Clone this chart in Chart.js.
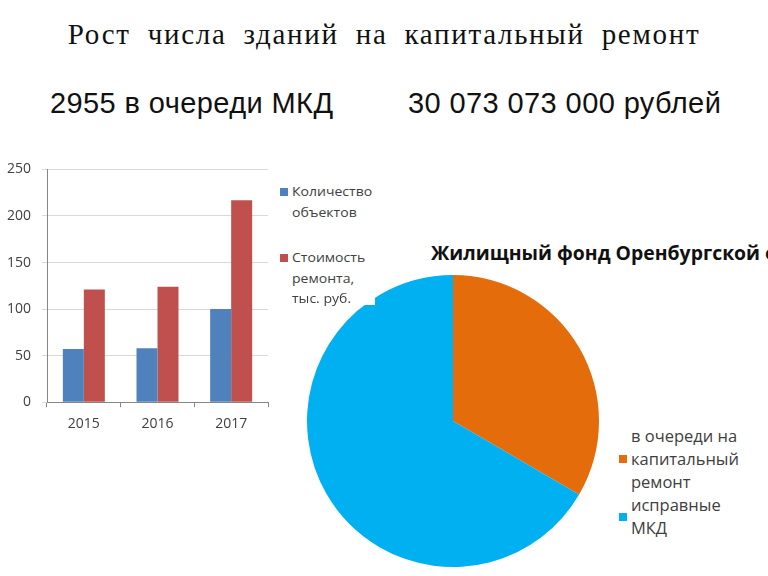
<!DOCTYPE html>
<html lang="ru">
<head>
<meta charset="utf-8">
<script src="https://cdn.jsdelivr.net/npm/chart.js@4.4.0/dist/chart.umd.min.js"></script>
<style>
  html, body { margin: 0; padding: 0; background: #fff; }
  body { width: 768px; height: 576px; overflow: hidden; position: relative; font-family: "Open Sans", sans-serif; }
  .slide-title { position: absolute; left: 0; top: 18px; width: 768px; text-align: center; white-space: nowrap;
    font-family: "Liberation Serif", serif; font-size: 29px; color: #111; letter-spacing: 1.7px; word-spacing: 8px; }
  .fact { position: absolute; top: 87px; white-space: nowrap; font-family: "Liberation Sans", Arial, sans-serif;
    font-size: 29px; letter-spacing: 0.4px; color: #111; }
  .box { position: absolute; }
  .legend { position: absolute; color: #404040; }
  .legend .item { position: relative; padding-left: 12px; }
  .legend .sw { position: absolute; left: 0; width: 8px; height: 8px; }
  .legend .txt { display: inline-block; white-space: nowrap; transform-origin: left center; }
  .pie-title { position: absolute; left: 431px; top: 240px; white-space: nowrap; font-weight: bold; font-size: 19px;
    color: #111; transform: scaleX(1.02); transform-origin: left center; }
  .mask { position: absolute; left: 280px; top: 150px; width: 95px; height: 155px; background: #fff; }
</style>
</head>
<body>
<div class="slide-title">Рост числа зданий на капитальный ремонт</div>
<div class="fact" style="left:50px">2955 в очереди МКД</div>
<div class="fact" style="left:408px">30 073 073 000 рублей</div>

<div class="box" style="left:300px; top:272px; width:306px; height:298px;"><canvas id="pieChart"></canvas></div>
<div class="mask"></div>
<div class="pie-title" id="pieTitle"></div>
<div class="legend" id="pieLegend" style="left:619px; top:425px; width:149px; font-size:16px; line-height:23px;"></div>

<div class="box" style="left:0; top:150px; width:280px; height:290px; background:#fff;"><canvas id="barChart"></canvas></div>
<div class="legend" id="barLegend" style="left:280px; top:181px; width:100px; font-size:13px; line-height:20.5px;"></div>

<script>
// Bar chart data
const years = ['2015', '2016', '2017'];
const objectCount = [57, 58, 100];
const repairCost = [121, 124, 217];
const barLabels = [['Количество', 'объектов'], ['Стоимость', 'ремонта,', 'тыс. руб.']];
const barColors = ['#4F81BD', '#C0504D'];
const yTicks = [0, 50, 100, 150, 200, 250];

// Pie chart data
const pieTitle = 'Жилищный фонд Оренбургской области';
const pieLabels = [['в очереди на', 'капитальный', 'ремонт'], ['исправные', 'МКД']];
const pieShares = [33.4, 66.6];
const pieColors = ['#E46C0A', '#00B0F0'];

Chart.defaults.font.family = '"Open Sans", sans-serif';
Chart.defaults.color = '#404040';
Chart.defaults.animation = false;

const barCtx = document.getElementById('barChart').getContext('2d');
new Chart(barCtx, {
    type: 'bar',
    data: {
        labels: years,
        datasets: [
            { label: barLabels[0].join(' '), data: objectCount, backgroundColor: barColors[0], barPercentage: 1, categoryPercentage: 0.57 },
            { label: barLabels[1].join(' '), data: repairCost, backgroundColor: barColors[1], barPercentage: 1, categoryPercentage: 0.57 }
        ]
    },
    options: {
        responsive: true,
        maintainAspectRatio: false,
        layout: { padding: { top: 5, right: 12, bottom: 0, left: 0 } },
        plugins: { legend: { display: false }, tooltip: { enabled: false } },
        scales: {
            x: {
                grid: { drawOnChartArea: false, drawTicks: true, tickLength: 5, color: '#868686' },
                border: { color: '#868686' },
                ticks: { font: { size: 14 }, padding: 8, color: '#404040' }
            },
            y: {
                min: 0, max: 250,
                afterBuildTicks: function(scale) { scale.ticks = yTicks.map(v => ({ value: v })); },
                afterFit: function(scale) { scale.width = 47; },
                grid: { color: '#D9D9D9', tickLength: 5 },
                border: { color: '#868686' },
                ticks: { font: { size: 14 }, padding: 11, color: '#404040' }
            }
        }
    }
});

const pieCtx = document.getElementById('pieChart').getContext('2d');
new Chart(pieCtx, {
    type: 'pie',
    data: {
        labels: pieLabels.map(l => l.join(' ')),
        datasets: [{ data: pieShares, backgroundColor: pieColors, borderWidth: 0 }]
    },
    options: {
        responsive: true,
        maintainAspectRatio: false,
        layout: { padding: { top: 3, bottom: 3, left: 7, right: 7 } },
        plugins: { legend: { display: false }, tooltip: { enabled: false } }
    }
});

// HTML legends with multi-line labels
function buildLegend(id, labels, colors, swTops, gap, stretch) {
    const box = document.getElementById(id);
    labels.forEach((lines, i) => {
        const item = document.createElement('div');
        item.className = 'item';
        if (i === 0) item.style.marginBottom = gap;
        const sw = document.createElement('span');
        sw.className = 'sw';
        sw.style.background = colors[i];
        sw.style.top = swTops[i];
        item.appendChild(sw);
        lines.forEach(line => {
            const row = document.createElement('div');
            const t = document.createElement('span');
            t.className = 'txt';
            t.style.transform = 'scaleX(' + stretch + ')';
            t.textContent = line;
            row.appendChild(t);
            item.appendChild(row);
        });
        box.appendChild(item);
    });
}
buildLegend('barLegend', barLabels, barColors, ['7px', '7px'], '25px', 1.08);
buildLegend('pieLegend', pieLabels, pieColors, ['30px', '19px'], '0', 1.03);
document.getElementById('pieTitle').textContent = pieTitle;
</script>
</body>
</html>
